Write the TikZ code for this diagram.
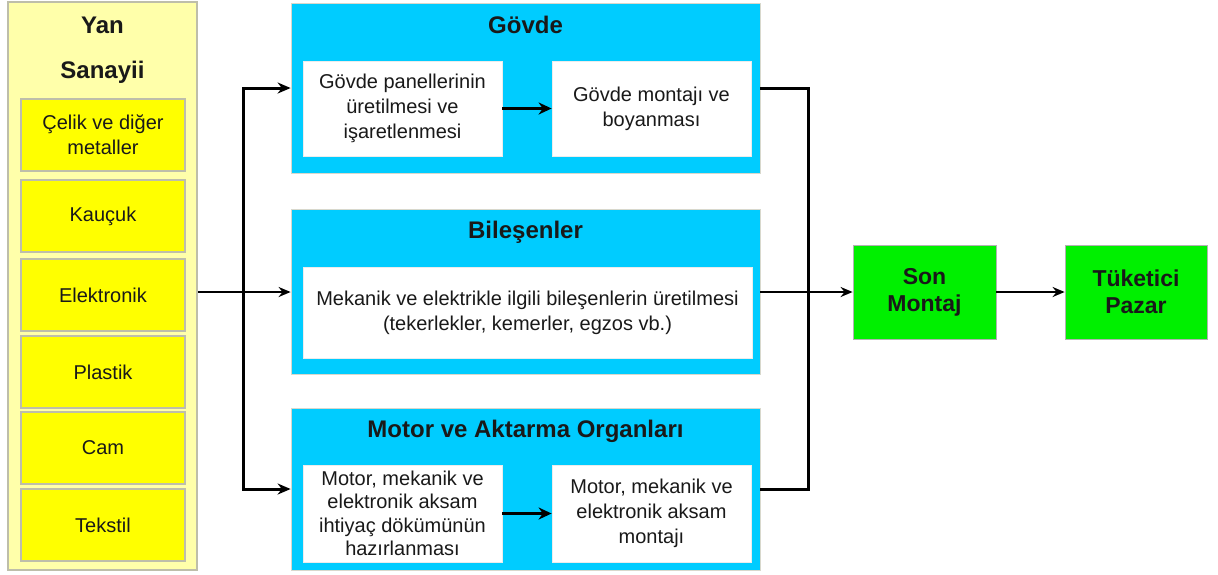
\documentclass[tikz,border=0pt]{standalone}
\usepackage{fontspec}
\setmainfont{Liberation Sans}
\usetikzlibrary{arrows.meta}

\definecolor{paleyellow}{RGB}{255,255,170}
\definecolor{itemyellow}{RGB}{255,255,0}
\definecolor{cyanbox}{RGB}{0,204,255}
\definecolor{greenbox}{RGB}{0,240,0}
\definecolor{edgegray}{RGB}{190,190,170}
\definecolor{inktext}{RGB}{25,25,25}

\tikzset{
  sidepanel/.style={draw=edgegray, line width=1.5pt, fill=paleyellow, inner sep=0pt},
  itembox/.style={draw=edgegray, line width=1.2pt, fill=itemyellow, text=inktext,
    minimum width=164pt, minimum height=72pt, inner sep=2pt, align=center,
    font=\fontsize{20}{25}\selectfont},
  groupbox/.style={draw=edgegray!60, line width=0.8pt, fill=cyanbox, inner sep=0pt},
  taskbox/.style={draw=white!85!gray, line width=0.8pt, fill=white, text=inktext,
    inner sep=2pt, align=center, font=\fontsize{20}{25}\selectfont},
  endbox/.style={draw=gray!60, line width=0.8pt, fill=greenbox, text=inktext,
    minimum width=143pt, minimum height=94pt, align=center,
    font=\bfseries\fontsize{23}{27}\selectfont},
  headtext/.style={text=inktext, font=\bfseries\fontsize{24}{27}\selectfont},
  tip/.style={-{Stealth[length=12pt,width=10pt]}},
  bus/.style={line width=3pt},
  flow/.style={line width=2pt, tip},
  inner/.style={line width=3.5pt, -{Stealth[length=13pt,width=12pt]}}
}

\begin{document}
\begin{tikzpicture}[x=1pt,y=-1pt]
\useasboundingbox (0,0) rectangle (1218,574);

% supplier industries column
\node[sidepanel, minimum width=189pt, minimum height=568pt] (yan) at (102.5,286) {};
\node[headtext] (yant) at (102.5,25) {Yan};
\node[headtext] (sant) at (102.5,72) {Sanayii};
\node[itembox] (celik) at (103,135) {Çelik ve diğer\\metaller};
\node[itembox] (kauc) at (103,216) {Kauçuk};
\node[itembox] (elek) at (103,295) {Elektronik};
\node[itembox] (plas) at (103,372) {Plastik};
\node[itembox] (cam) at (103,448) {Cam};
\node[itembox] (teks) at (103,525) {Tekstil};

% body group
\node[groupbox, minimum width=469pt, minimum height=170pt] (gov) at (525.5,88) {};
\node[headtext] (govt) at (525.5,25) {Gövde};
\node[taskbox, minimum width=199pt, minimum height=95pt] (g1) at (402.5,108.5)
  {Gövde panellerinin\\üretilmesi ve\\işaretlenmesi};
\node[taskbox, minimum width=199pt, minimum height=95pt] (g2) at (651.5,108.5)
  {Gövde montajı ve\\boyanması};

% components group
\node[groupbox, minimum width=469pt, minimum height=165pt] (bil) at (525.5,292) {};
\node[headtext] (bilt) at (525.5,232) {Bileşenler};
\node[taskbox, minimum width=449pt, minimum height=91pt] (b1) at (527.5,312.5)
  {Mekanik ve elektrikle ilgili bileşenlerin üretilmesi\\(tekerlekler, kemerler, egzos vb.)};

% powertrain group
\node[groupbox, minimum width=469pt, minimum height=162pt] (mot) at (525.5,489) {};
\node[headtext] (mott) at (525.5,431) {Motor ve Aktarma Organları};
\node[taskbox, minimum width=199pt, minimum height=97pt, font=\fontsize{20}{23.5}\selectfont] (m1) at (402.5,513.5)
  {Motor, mekanik ve\\elektronik aksam\\ihtiyaç dökümünün\\hazırlanması};
\node[taskbox, minimum width=199pt, minimum height=97pt] (m2) at (651.5,513.5)
  {Motor, mekanik ve\\elektronik aksam\\montajı};

% final stages
\node[endbox] (son) at (924.5,292) {Son\\Montaj};
\node[endbox, minimum width=142pt] (tuk) at (1136,292) {Tüketici\\Pazar};

% bus lines
\coordinate (lbus) at (243,0);
\coordinate (rbus) at (808,0);

% connectors
\draw[flow] (yan.east |- bil) -- (bil.west);
\draw[bus, {Stealth[length=13pt,width=11pt]}-{Stealth[length=13pt,width=11pt]}]
  (gov.west) -| (lbus |- mot.west) -- (mot.west);
\draw[bus] (gov.east) -| (rbus |- mot.east) -- (mot.east);
\draw[flow] (bil.east) -- (son.west);
\draw[flow] (son.east) -- (tuk.west);
\draw[inner] (g1.east) -- (g2.west);
\draw[inner] (m1.east) -- (m2.west);
\end{tikzpicture}
\end{document}
